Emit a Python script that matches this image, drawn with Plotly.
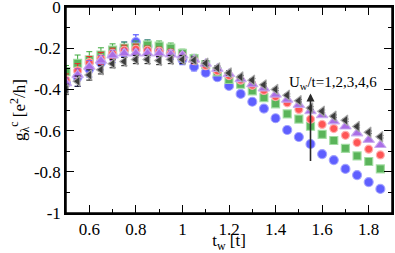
import plotly.graph_objects as go

t_w = [0.50, 0.55, 0.60, 0.65, 0.70, 0.75, 0.80, 0.85, 0.90, 0.95,
       1.00, 1.05, 1.10, 1.15, 1.20, 1.25, 1.30, 1.35, 1.40, 1.45,
       1.50, 1.55, 1.60, 1.65, 1.70, 1.75, 1.80, 1.85]

g_U1 = [-0.37, -0.34, -0.30, -0.27, -0.235, -0.205, -0.17, -0.19, -0.21, -0.225,
        -0.255, -0.29, -0.319, -0.341, -0.383, -0.422, -0.46, -0.493, -0.54, -0.597,
        -0.631, -0.665, -0.714, -0.743, -0.786, -0.816, -0.85, -0.883]
e_U1 = [0.04, 0.045, 0.04, 0.035, 0.035, 0.035, 0.035, 0.03, 0.03, 0.03,
        0.025, 0.02, 0.015, 0.012, 0.01, 0.008, 0.006, 0.005, 0.005, 0.005,
        0.005, 0.005, 0.005, 0.005, 0.005, 0.005, 0.005, 0.005]

g_U2 = [-0.314, -0.273, -0.257, -0.233, -0.209, -0.2, -0.195, -0.185, -0.19, -0.2,
        -0.225, -0.25, -0.28, -0.315, -0.352, -0.375, -0.407, -0.44, -0.47, -0.519,
        -0.544, -0.579, -0.618, -0.648, -0.686, -0.723, -0.75, -0.786]
e_U2 = [0.03, 0.04, 0.04, 0.035, 0.03, 0.03, 0.03, 0.025, 0.025, 0.025,
        0.02, 0.02, 0.015, 0.012, 0.01, 0.008, 0.006, 0.005, 0.005, 0.005,
        0.005, 0.005, 0.005, 0.005, 0.005, 0.005, 0.005, 0.005]

g_U3 = [-0.355, -0.31, -0.27, -0.25, -0.225, -0.21, -0.205, -0.21, -0.215, -0.225,
        -0.24, -0.26, -0.285, -0.31, -0.333, -0.355, -0.38, -0.405, -0.435, -0.465,
        -0.497, -0.545, -0.57, -0.59, -0.623, -0.658, -0.69, -0.718]
e_U3 = [0.03, 0.035, 0.03, 0.03, 0.025, 0.025, 0.025, 0.02, 0.02, 0.02,
        0.02, 0.015, 0.012, 0.01, 0.01, 0.008, 0.006, 0.006, 0.005, 0.005,
        0.005, 0.005, 0.005, 0.005, 0.005, 0.005, 0.005, 0.005]

g_U4 = [-0.37, -0.33, -0.29, -0.26, -0.235, -0.225, -0.225, -0.225, -0.225, -0.23,
        -0.235, -0.255, -0.275, -0.30, -0.325, -0.35, -0.375, -0.395, -0.425, -0.45,
        -0.475, -0.505, -0.525, -0.555, -0.58, -0.613, -0.645, -0.67]
e_U4 = [0.025, 0.03, 0.03, 0.025, 0.025, 0.02, 0.02, 0.02, 0.02, 0.02,
        0.015, 0.015, 0.012, 0.01, 0.01, 0.008, 0.006, 0.006, 0.005, 0.005,
        0.005, 0.005, 0.005, 0.005, 0.005, 0.005, 0.005, 0.005]

g_U6 = [-0.40, -0.36, -0.33, -0.305, -0.275, -0.265, -0.255, -0.255, -0.26, -0.255,
        -0.255, -0.258, -0.273, -0.296, -0.32, -0.34, -0.355, -0.378, -0.40, -0.428,
        -0.455, -0.49, -0.506, -0.53, -0.55, -0.58, -0.608, -0.63]
e_U6 = [0.025, 0.025, 0.025, 0.02, 0.02, 0.02, 0.02, 0.02, 0.02, 0.02,
        0.02, 0.015, 0.012, 0.01, 0.01, 0.008, 0.008, 0.006, 0.006, 0.006,
        0.006, 0.006, 0.006, 0.006, 0.006, 0.006, 0.006, 0.006]

y_tickvals = [0, -0.2, -0.4, -0.6, -0.8, -1]
y_ticktext = ["0", "-0.2", "-0.4", "-0.6", "-0.8", "-1"]
x_tickvals = [0.6, 0.8, 1.0, 1.2, 1.4, 1.6, 1.8]
x_ticktext = ["0.6", "0.8", "1", "1.2", "1.4", "1.6", "1.8"]

series = [
    (g_U1, e_U1, "circle", "rgb(95,95,255)", "rgba(160,160,255,0.9)", "rgb(60,60,255)", 9),
    (g_U2, e_U2, "square", "rgb(90,180,90)", "rgba(160,220,160,0.9)", "rgb(60,170,60)", 8),
    (g_U3, e_U3, "circle", "rgb(255,85,85)", "rgba(255,175,175,0.9)", "rgb(240,40,40)", 8),
    (g_U4, e_U4, "triangle-up", "rgb(170,110,230)", "rgba(200,170,240,0.9)", "rgb(150,90,220)", 10),
    (g_U6, e_U6, "triangle-left", "rgb(60,60,60)", "rgba(170,170,170,0.9)", "rgb(20,20,20)", 9),
]

fig = go.Figure()
for ys, es, sym, fill, edge, ecol, sz in series:
    fig.add_trace(go.Scatter(
        x=t_w, y=ys, mode="markers",
        marker=dict(symbol=sym, size=sz, color=fill, line=dict(color=edge, width=1.2)),
        error_y=dict(type="data", array=es, visible=True, color=ecol, thickness=1, width=3),
        showlegend=False, cliponaxis=True,
    ))

font_family = "Liberation Serif"

fig.add_annotation(x=1.55, y=-0.42, ax=1.55, ay=-0.755, xref="x", yref="y",
                   axref="x", ayref="y", showarrow=True, arrowhead=2, arrowsize=1,
                   arrowwidth=1.6, arrowcolor="rgb(40,40,40)", text="")
fig.add_annotation(x=1.648, y=-0.369, xref="x", yref="y", showarrow=False,
                   text="U<sub>w</sub>/t=1,2,3,4,6",
                   font=dict(family=font_family, size=15, color="black"))

# frame around the plotting area
fig.add_shape(type="rect", xref="paper", yref="paper", x0=0, y0=0, x1=1, y1=1,
              line=dict(color="black", width=1.5), layer="above")

fig.update_layout(
    width=395, height=253,
    margin=dict(l=66, r=3, t=7, b=40, autoexpand=False),
    plot_bgcolor="white", paper_bgcolor="white",
    font=dict(family=font_family, size=17, color="black"),
)
fig.update_xaxes(
    range=[0.5, 1.9], showgrid=False, zeroline=False,
    showline=True, linecolor="black", linewidth=1.5, mirror="allticks",
    ticks="inside", ticklen=8, tickwidth=1.2, tickcolor="black",
    tickvals=x_tickvals, ticktext=x_ticktext, automargin=False,
    ticklabeloverflow="allow",
    minor=dict(ticks="inside", ticklen=4, tickwidth=1, tickcolor="black", dtick=0.1, tick0=0.5),
    title=dict(text="t<sub>w</sub> [t]", standoff=2, font=dict(size=17)),
)
fig.update_yaxes(
    range=[-1, 0], showgrid=False, zeroline=False,
    showline=True, linecolor="black", linewidth=1.5, mirror="allticks",
    ticks="inside", ticklen=8, tickwidth=1.2, tickcolor="black",
    tickvals=y_tickvals, ticktext=y_ticktext, automargin=False,
    ticklabeloverflow="allow",
    minor=dict(ticks="inside", ticklen=4, tickwidth=1, tickcolor="black", dtick=0.1, tick0=0),
    title=dict(text="g<sub>λ</sub><sup>c</sup> [e<sup>2</sup>/h]", standoff=4, font=dict(size=17)),
)

# remove the browser's default 8px page margin so the figure fills the window
page_fix = "document.body.style.margin='0';document.body.style.overflow='hidden';"

fig.write_html("out.html", post_script=page_fix, config={"displayModeBar": False})
